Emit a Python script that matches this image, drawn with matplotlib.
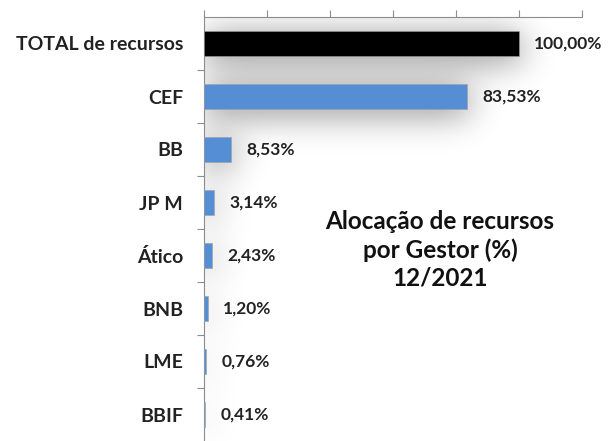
import matplotlib
matplotlib.use("Agg")
import matplotlib.pyplot as plt
import numpy as np

# dados
gestores = ["TOTAL de recursos", "CEF", "BB", "JP M", "Ático", "BNB", "LME", "BBIF"]
percentuais = [100.00, 83.53, 8.53, 3.14, 2.43, 1.20, 0.76, 0.41]
rotulos = ["100,00%", "83,53%", "8,53%", "3,14%", "2,43%", "1,20%", "0,76%", "0,41%"]
cores = ["#000000"] + ["#558ed5"] * 7
titulo = "Alocação de recursos\npor Gestor (%)\n12/2021"

plt.rcParams["font.family"] = ["Lato", "DejaVu Sans"]

W, H = 378, 424          # tamanho da area do grafico em pixels
XMAX = 120
ALTURA = 0.47

fig = plt.figure(figsize=(6.14, 4.41), dpi=100)
ax = fig.add_axes([204 / 614, 0.0, W / 614, H / 441])

ys = np.arange(len(gestores))
n = len(gestores)

# sombra difusa atras das barras (efeito do Excel)
mask = np.zeros((H, W))
lin = H / n
for y, v in zip(ys, percentuais):
    y0 = int(round((y + 0.5 - ALTURA / 2) * lin)) + 5
    y1 = int(round((y + 0.5 + ALTURA / 2) * lin)) + 5
    x1 = int(round(v / XMAX * W)) + 2
    mask[max(y0, 0):min(y1, H), 0:min(x1, W)] = 1.0
sig = 17
k = np.arange(-3 * sig, 3 * sig + 1)
kern = np.exp(-k ** 2 / (2 * sig ** 2))
kern /= kern.sum()
pad = 3 * sig
mp = np.pad(mask, pad, mode="constant")
mp = np.apply_along_axis(lambda r: np.convolve(r, kern, mode="same"), 0, mp)
mp = np.apply_along_axis(lambda r: np.convolve(r, kern, mode="same"), 1, mp)
blur = mp[pad:-pad, pad:-pad]
sombra = np.zeros((H, W, 4))
sombra[..., 3] = np.clip(blur * 0.5, 0, 1)
ax.imshow(sombra, extent=(0, XMAX, n - 0.5, -0.5), aspect="auto", zorder=1, interpolation="bilinear")

ax.barh(ys, percentuais, height=ALTURA, color=cores, edgecolor="#a0a0a0", linewidth=0.4, zorder=3)

for y, v, r in zip(ys, percentuais, rotulos):
    ax.annotate(r, (v, y), xytext=(11, 0), textcoords="offset points",
                va="center", ha="left", fontsize=12.5, fontweight="bold", color="#222222")

ax.set_xlim(0, XMAX)
ax.set_ylim(n - 0.5, -0.5)

# eixo x no topo, so marcas
ax.xaxis.tick_top()
ax.set_xticks(np.arange(0, XMAX + 1, 20))
ax.set_xticklabels([])
ax.tick_params(axis="x", direction="out", length=5, color="#8c8c8c", width=0.8)

# eixo y: rotulos no centro, marcas nas divisas
ax.set_yticks(ys)
ax.set_yticklabels(gestores, fontsize=14, fontweight="bold", color="#222222")
ax.tick_params(axis="y", which="major", length=0, pad=15)
ax.set_yticks(np.arange(0.5, n - 0.5, 1), minor=True)
ax.tick_params(axis="y", which="minor", direction="out", length=5, color="#8c8c8c", width=0.8)

for s in ["right", "bottom"]:
    ax.spines[s].set_visible(False)
for s in ["left", "top"]:
    ax.spines[s].set_color("#8c8c8c")
    ax.spines[s].set_linewidth(0.8)

ax.text(440 / 614, 1 - 250 / 441, titulo, transform=fig.transFigure, ha="center", va="center",
        fontsize=17.5, fontweight="bold", color="#111111", linespacing=1.25)

fig.savefig("out.png", dpi=100)
